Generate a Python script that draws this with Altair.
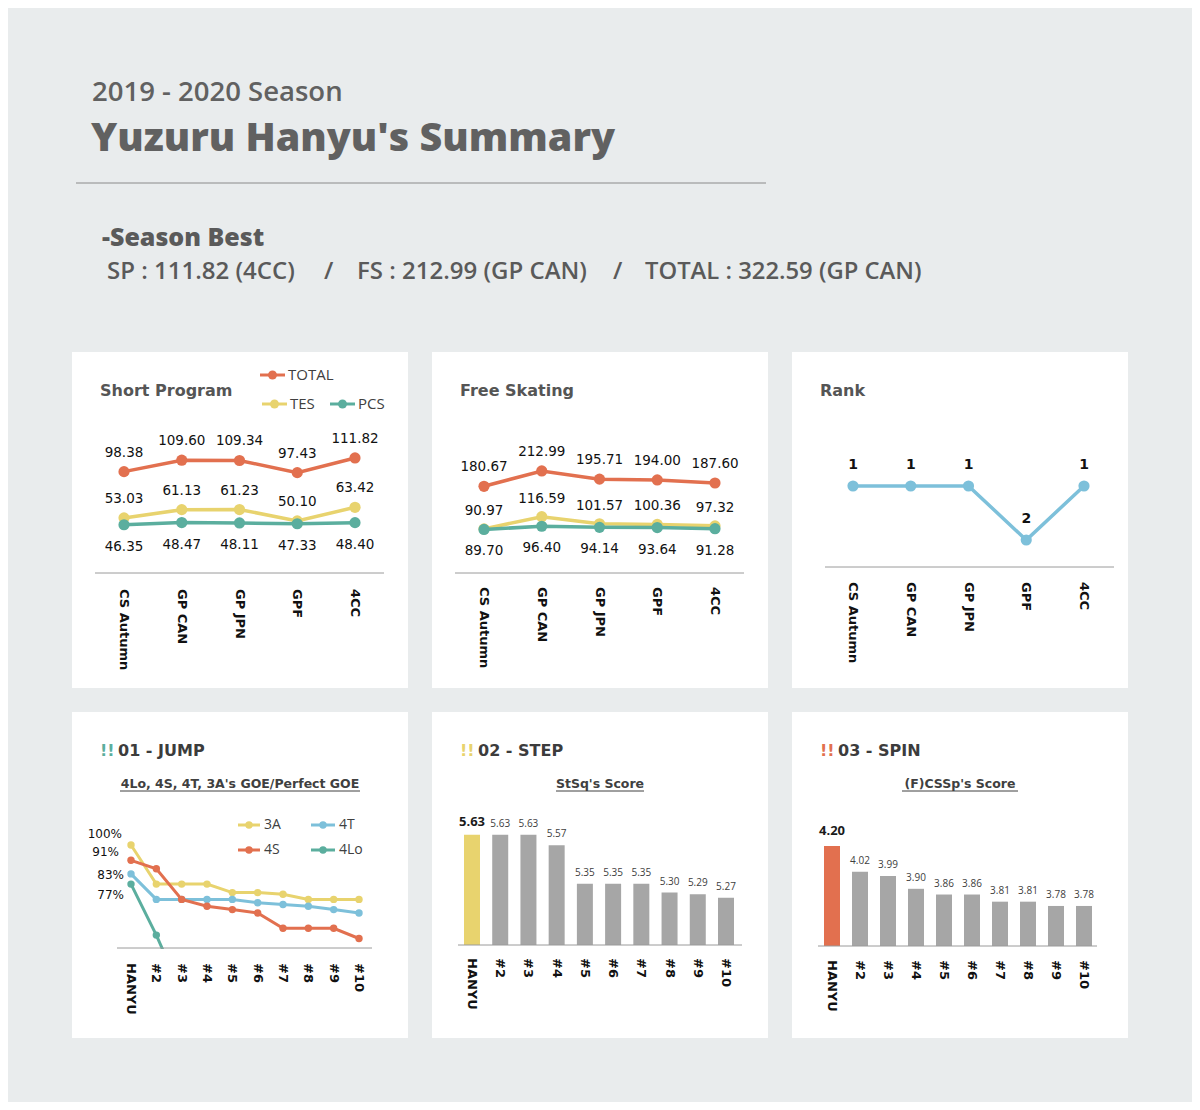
import altair as alt
import pandas as pd

# ---------------- data ----------------
season_text = "2019 - 2020 Season"
title_text = "Yuzuru Hanyu's Summary"
best_head = "-Season Best"
best_parts = ["SP : 111.82 (4CC)", "/", "FS : 212.99 (GP CAN)", "/", "TOTAL : 322.59 (GP CAN)"]

events = ["CS Autumn", "GP CAN", "GP JPN", "GPF", "4CC"]
score_series = ["TOTAL", "TES", "PCS"]
sp_total = [98.38, 109.60, 109.34, 97.43, 111.82]
sp_tes = [53.03, 61.13, 61.23, 50.10, 63.42]
sp_pcs = [46.35, 48.47, 48.11, 47.33, 48.40]
fs_total = [180.67, 212.99, 195.71, 194.00, 187.60]
fs_tes = [90.97, 116.59, 101.57, 100.36, 97.32]
fs_pcs = [89.70, 96.40, 94.14, 93.64, 91.28]
ranks = [1, 1, 1, 2, 1]

places = ["HANYU", "#2", "#3", "#4", "#5", "#6", "#7", "#8", "#9", "#10"]
jump_series = ["3A", "4T", "4S", "4Lo"]
jump_3a = [100, 77, 77, 77, 72, 72, 71, 68, 68, 68]
jump_4t = [83, 68, 68, 68, 68, 66, 65, 64, 62, 60]
jump_4s = [91, 86, 68, 64, 62, 60, 51, 51, 51, 45]
jump_4lo = [77, 47, 13]
step_scores = [5.63, 5.63, 5.63, 5.57, 5.35, 5.35, 5.35, 5.30, 5.29, 5.27]
spin_scores = [4.20, 4.02, 3.99, 3.90, 3.86, 3.86, 3.81, 3.81, 3.78, 3.78]

panel_titles = ["Short Program", "Free Skating", "Rank"]
element_titles = ["01 - JUMP", "02 - STEP", "03 - SPIN"]
element_subtitles = ["4Lo, 4S, 4T, 3A's GOE/Perfect GOE", "StSq's Score", "(F)CSSp's Score"]

# ---------------- style ----------------
ORANGE = "#E2704F"
YELLOW = "#E8D36E"
TEAL = "#5BAE9E"
BLUE = "#7DC0DA"
GRAY = "#A6A6A6"
BG = "#E9ECED"
AXIS_C = "#9A9A9A"
HEAD_C = "#616161"
TITLE_C = "#555555"
DARK_T = "#3C3C3C"
NUM = "DejaVu Sans"
UI = "Open Sans"


def one():
    return pd.DataFrame({"a": [0]})


def txt(s, x, y, size, color, font=NUM, weight="normal", align="left", baseline="alphabetic"):
    return alt.Chart(pd.DataFrame({"t": [s]})).mark_text(
        align=align, baseline=baseline, font=font, fontSize=size, fontWeight=weight, color=color
    ).encode(x=alt.value(x), y=alt.value(y), text="t:N")


def hrule(x1, x2, y, color, width=1):
    return alt.Chart(one()).mark_rule(color=color, strokeWidth=width).encode(
        x=alt.value(x1), x2=alt.value(x2), y=alt.value(y))


def legend_entry(name, color, x1, x2, y, tx, size, dot):
    return [
        hrule(x1, x2, y, color, 3),
        alt.Chart(one()).mark_circle(color=color, size=dot, opacity=1).encode(
            x=alt.value((x1 + x2) / 2), y=alt.value(y)),
        txt(name, tx, y, size, "#404040", font=UI, baseline="middle"),
    ]


def xlabels(values, field, xenc, y):
    return alt.Chart(pd.DataFrame({field: values})).mark_text(
        angle=90, align="left", baseline="middle", font=NUM, fontSize=13,
        fontWeight="bold", color="#111111"
    ).encode(x=xenc, y=alt.value(y), text=f"{field}:N")


def white(chart, w, h):
    return chart.properties(width=w, height=h, view=alt.ViewBackground(fill="white"))


# ---------------- score panels ----------------
def score_panel(title, vals_list, ymax, legend, xlab_y, dys):
    xs = alt.X("event:N", scale=alt.Scale(type="point", domain=events, range=[52, 283], padding=0), axis=None)
    ys = alt.Y("v:Q", scale=alt.Scale(domain=[0, ymax], range=[220, 16]), axis=None)
    colors = [ORANGE, YELLOW, TEAL]
    layers = [txt(title, 28, 44, 16, TITLE_C, weight="bold")]
    if legend:
        layers += legend_entry(score_series[0], ORANGE, 188, 213, 23, 216, 15, 80)
        layers += legend_entry(score_series[1], YELLOW, 190, 215, 52, 218, 15, 80)
        layers += legend_entry(score_series[2], TEAL, 258, 283, 52, 286, 15, 80)
    layers.append(hrule(23, 312, 221, AXIS_C))
    layers.append(xlabels(events, "event", xs, xlab_y))
    bases = []
    for name, vals, color in zip(score_series, vals_list, colors):
        base = alt.Chart(pd.DataFrame({"event": events, "v": vals})).encode(x=xs, y=ys)
        bases.append(base)
        layers += [base.mark_line(color=color, strokeWidth=3.5),
                   base.mark_circle(color=color, size=125, opacity=1)]
    for base, dy in zip(bases, dys):
        layers.append(base.mark_text(dy=dy, font=NUM, fontSize=13.5, color="#111111").encode(
            text=alt.Text("v:Q", format=".2f")))
    return white(alt.layer(*layers), 336, 336)


sp = score_panel(panel_titles[0], [sp_total, sp_tes, sp_pcs], 200, True, 237, [-19, -19, 22])
fs = score_panel(panel_titles[1], [fs_total, fs_tes, fs_pcs], 430, False, 235, [-19, -18, 22])

# ---------------- rank panel ----------------
xr = alt.X("event:N", scale=alt.Scale(type="point", domain=events, range=[61, 292], padding=0), axis=None)
yr = alt.Y("v:Q", scale=alt.Scale(domain=[0, 2.5], range=[80, 215]), axis=None)
rbase = alt.Chart(pd.DataFrame({"event": events, "v": ranks})).encode(x=xr, y=yr)
rank_panel = white(alt.layer(
    txt(panel_titles[2], 28, 44, 16, TITLE_C, weight="bold"),
    hrule(33, 322, 215, AXIS_C),
    xlabels(events, "event", xr, 230),
    rbase.mark_line(color=BLUE, strokeWidth=3.5),
    rbase.mark_circle(color=BLUE, size=125, opacity=1),
    rbase.mark_text(dy=-21, font=NUM, fontSize=14, fontWeight="bold", color="#111111").encode(
        text=alt.Text("v:Q", format="d")),
), 336, 336)


# ---------------- element header ----------------
def element_head(i, mark_color, sub_w):
    c = 168
    return [
        txt("!!", 28, 44, 16, mark_color, weight="bold"),
        txt(element_titles[i], 46, 44, 16, DARK_T, weight="bold"),
        txt(element_subtitles[i], c, 76, 12.5, "#404040", weight="bold", align="center"),
        hrule(c - sub_w / 2, c + sub_w / 2, 79, "#404040"),
    ]


# ---------------- jump panel ----------------
xj = alt.X("place:N", scale=alt.Scale(type="point", domain=places, range=[59, 287], padding=0), axis=None)
yj = alt.Y("v:Q", scale=alt.Scale(domain=[40, 100], range=[235, 133]), axis=None)
jump_vals = [jump_3a, jump_4t, jump_4s, jump_4lo]
jump_colors = [YELLOW, BLUE, ORANGE, TEAL]
jump_label_off = [(-9, -11), (-7, 1), (-12, -8), (-7, 11)]
jl = element_head(0, TEAL, 240)
jl += legend_entry(jump_series[0], YELLOW, 166, 188, 113, 192, 14, 55)
jl += legend_entry(jump_series[1], BLUE, 239, 263, 113, 267, 14, 55)
jl += legend_entry(jump_series[2], ORANGE, 166, 188, 138, 192, 14, 55)
jl += legend_entry(jump_series[3], TEAL, 239, 263, 138, 267, 14, 55)
jbases = []
for name, vals, color in zip(jump_series, jump_vals, jump_colors):
    b = alt.Chart(pd.DataFrame({"place": places[:len(vals)], "v": vals})).encode(x=xj, y=yj)
    jbases.append(b)
    jl += [b.mark_line(color=color, strokeWidth=3), b.mark_circle(color=color, size=55, opacity=1)]
for b, (dx, dy) in zip(jbases, jump_label_off):
    jl.append(b.transform_filter(alt.datum.place == places[0]).transform_calculate(
        lbl="format(datum.v, '.0f') + '%'").mark_text(
        align="right", dx=dx, dy=dy, font=NUM, fontSize=12, color="#111111").encode(text="lbl:N"))
# white mask below the axis line (values below the axis minimum are hidden)
jl.append(alt.Chart(one()).mark_rect(color="white").encode(
    x=alt.value(40), x2=alt.value(305), y=alt.value(237), y2=alt.value(300)))
jl.append(hrule(45, 300, 236, AXIS_C))
jl.append(xlabels(places, "place", xj, 251))
jump_panel = white(alt.layer(*jl), 336, 326)


# ---------------- bar panels ----------------
def bar_panel(i, scores, hl_color, sub_w, rng, base_v, yrange, axis_y, ax_x2, lab_y, hl_dy):
    xb = alt.X("place:N", scale=alt.Scale(type="point", domain=places, range=rng, padding=0), axis=None)
    yb = alt.Y("v:Q", scale=alt.Scale(domain=[base_v, base_v + 1], range=yrange), axis=None)
    b = alt.Chart(pd.DataFrame({"place": places, "v": scores})).encode(x=xb, y=yb)
    layers = element_head(i, hl_color, sub_w)
    layers += [
        b.mark_bar(width=16).encode(
            y2=alt.datum(base_v),
            color=alt.when(alt.datum.place == places[0]).then(alt.value(hl_color)).otherwise(alt.value(GRAY))),
        hrule(26, ax_x2, axis_y, AXIS_C),
        b.transform_filter(alt.datum.place != places[0]).mark_text(
            dy=-11, font=UI, fontSize=10, color="#404040").encode(text=alt.Text("v:Q", format=".2f")),
        b.transform_filter(alt.datum.place == places[0]).mark_text(
            dy=hl_dy, font=UI, fontSize=13, fontWeight="bold", color="#1A1A1A").encode(
            text=alt.Text("v:Q", format=".2f")),
        xlabels(places, "place", xb, lab_y),
    ]
    return white(alt.layer(*layers), 336, 326)


step_panel = bar_panel(1, step_scores, YELLOW, 88, [40, 294], 5.0, [233, 58], 233, 310, 246, -13)
spin_panel = bar_panel(2, spin_scores, ORANGE, 116, [40, 292], 3.5, [234, 91], 234, 305, 248, -15)

# ---------------- header ----------------
SB_C = "#5A5A5A"
header = alt.layer(
    txt(season_text, 20, 93, 27.5, HEAD_C, font=UI, weight=600),
    txt(title_text, 19, 143, 39.5, HEAD_C, font=UI, weight=800),
    hrule(4, 694, 175, "#8A8A8A"),
    txt(best_head, 30, 238, 25, SB_C, font=UI, weight=800),
    txt(best_parts[0], 35, 271, 24, SB_C, font=UI, weight=600),
    txt(best_parts[1], 252, 271, 24, SB_C, font=UI, weight=600),
    txt(best_parts[2], 285, 271, 24, SB_C, font=UI, weight=600),
    txt(best_parts[3], 541, 271, 24, SB_C, font=UI, weight=600),
    txt(best_parts[4], 573, 271, 23.8, SB_C, font=UI, weight=600),
).properties(width=1056, height=320, view=alt.ViewBackground(fill=BG))

row1 = alt.hconcat(sp, fs, rank_panel, spacing=24)
row2 = alt.hconcat(jump_panel, step_panel, spin_panel, spacing=24)

chart = alt.vconcat(header, row1, row2, spacing=24).properties(
    padding={"left": 64, "top": 0, "right": 64, "bottom": 64},
    background=BG,
).configure_view(strokeWidth=0)

chart.save("out.html", embed_options={"renderer": "svg", "actions": False})
